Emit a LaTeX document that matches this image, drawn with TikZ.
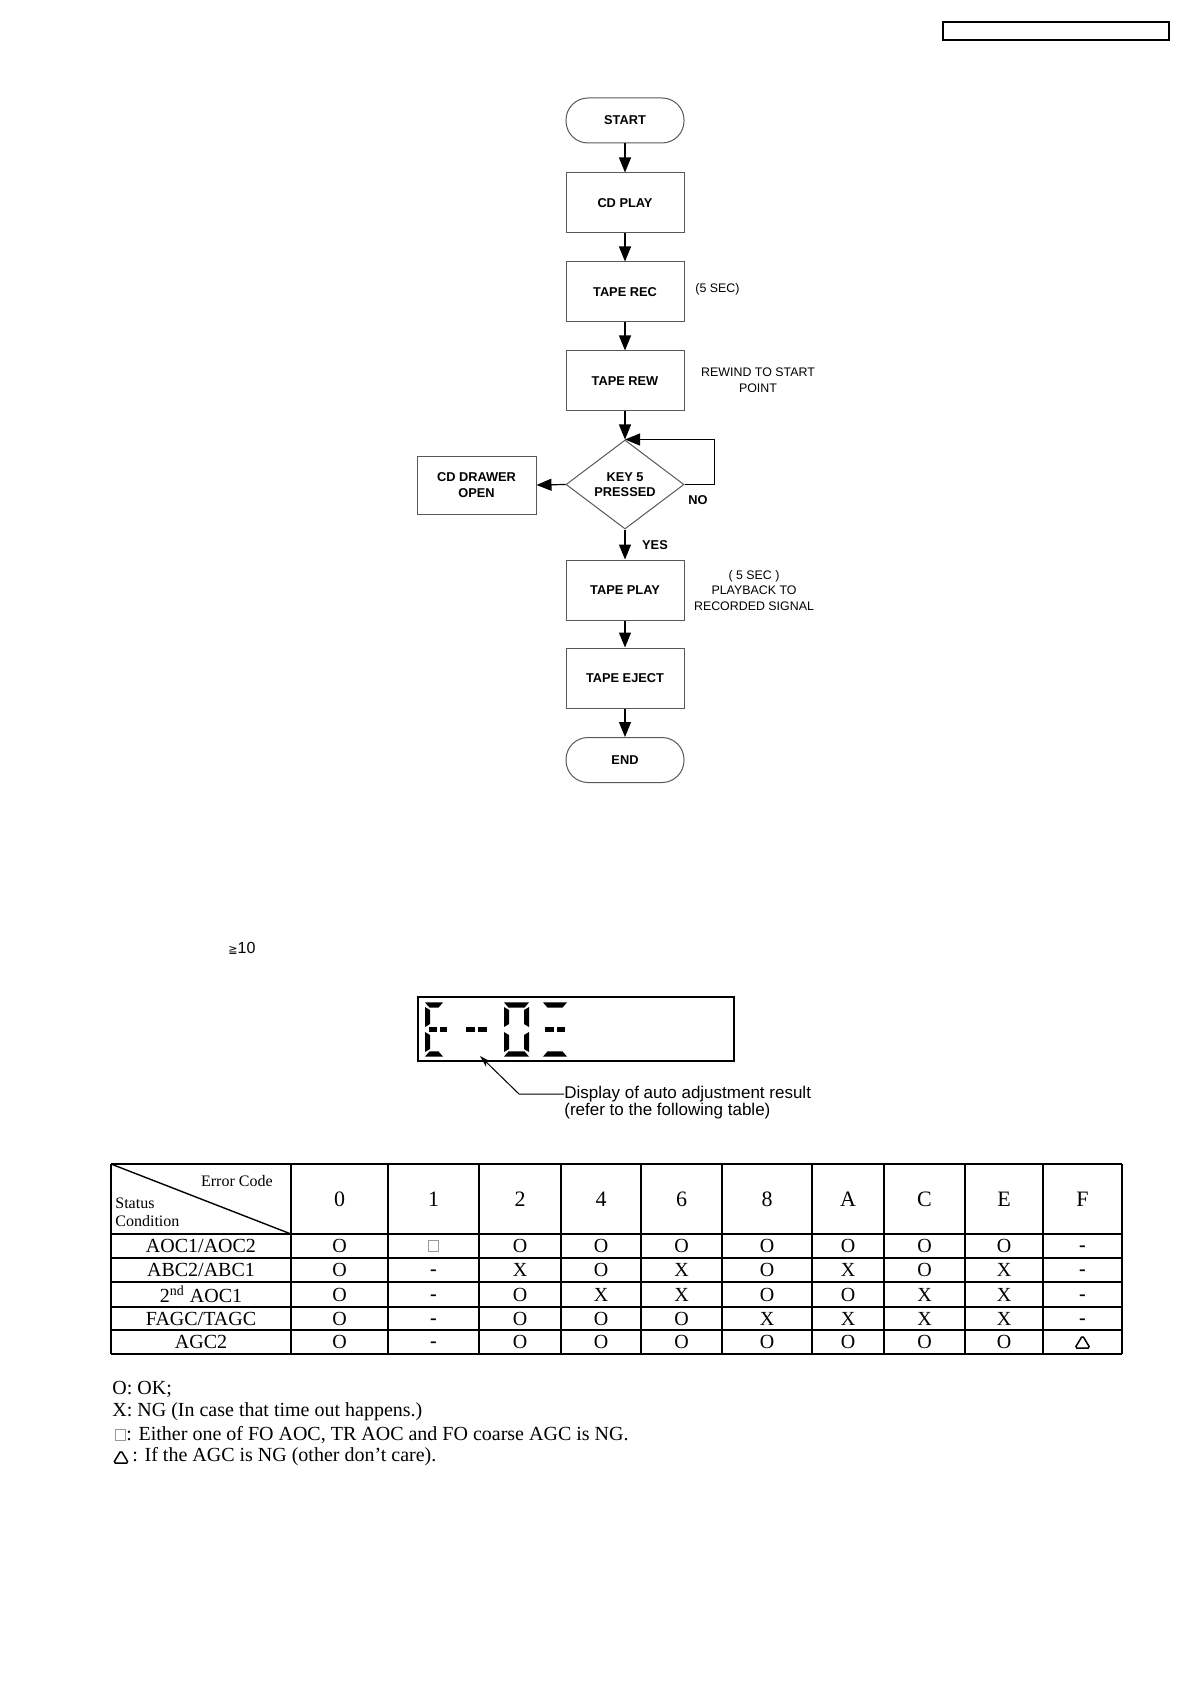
\documentclass[tikz,border=0pt]{standalone}
\usepackage{fontspec}
\setmainfont{Liberation Serif}
\setsansfont{Liberation Sans}
\newfontfamily\djv{DejaVu Sans}
\usetikzlibrary{shapes.geometric,arrows.meta}
% top bar: full top edge, inset bottom edge
\newcommand\tsegm[3]{\fill (#1,#3-2.6) -- (#2,#3-2.6) -- (#2-4.5,#3+2.6) -- (#1+4.5,#3+2.6) -- cycle;}
% bottom bar
\newcommand\bsegm[3]{\fill (#1,#3+2.6) -- (#2,#3+2.6) -- (#2-4.5,#3-2.6) -- (#1+4.5,#3-2.6) -- cycle;}
% left vertical (outer edge full)
\newcommand\lsegm[3]{\fill (#1-2.5,#2) -- (#1+2.5,#2+3) -- (#1+2.5,#3-3) -- (#1-2.5,#3) -- cycle;}
% right vertical
\newcommand\rsegm[3]{\fill (#1+2.5,#2) -- (#1-2.5,#2+3) -- (#1-2.5,#3-3) -- (#1+2.5,#3) -- cycle;}
\newcommand\dsegm[3]{\fill (#1,#3-2.5) rectangle (#2,#3+2.5);}
\newcommand\trigl[2]{\draw[line width=0.75pt, rounded corners=0.9pt] (#1-7.5,#2+6) -- (#1+7.5,#2+6) -- (#1,#2-6.5) -- cycle;}
\newcommand\grsq[2]{\draw[black!40, line width=0.5pt] (#1-5,#2-6) rectangle (#1+5,#2+5);}
\begin{document}
\begin{tikzpicture}[x=0.5pt,y=-0.5pt,
  fc/.style={draw=black!65, line width=0.5pt, minimum width=59pt, minimum height=30pt, inner sep=0pt,
    font=\sffamily\bfseries\fontsize{6.4}{7.8}\selectfont, align=center},
  term/.style={fc, rounded corners=11pt, minimum height=22.5pt},
  dec/.style={fc, diamond, aspect=1.33, minimum width=59pt, minimum height=44.5pt},
  note/.style={font=\sffamily\fontsize{6.2}{7.8}\selectfont, align=center, inner sep=0pt},
  bnote/.style={note, font=\sffamily\bfseries\fontsize{6.4}{7.8}\selectfont},
  arr/.style={-{Triangle[length=7.5pt,width=6pt]}, line width=0.6pt},
  lbl/.style={font=\sffamily\fontsize{8.5}{10}\selectfont, inner sep=0pt, anchor=west},
  tbl/.style={line width=0.8pt},
  hd/.style={font=\fontsize{11}{13}\selectfont, inner sep=0pt},
  cell/.style={font=\fontsize{10}{12}\selectfont, inner sep=0pt},
  dcell/.style={font=\bfseries\fontsize{10}{12}\selectfont, inner sep=0pt},
  small/.style={font=\fontsize{8}{9.5}\selectfont, inner sep=0pt},
  leg/.style={font=\fontsize{10}{12}\selectfont, inner sep=0pt, anchor=west}
]
\useasboundingbox (0,0) rectangle (1190,1684);
\fill[white] (0,0) rectangle (1190,1684);

% top right box
\draw[line width=1pt] (943,22) rectangle (1169,40);

% flowchart
\node[term] (start) at (625,120.5) {START};
\node[fc] (cdplay) at (625,203) {CD PLAY};
\node[fc] (taperec) at (625,292) {TAPE REC};
\node[fc] (taperew) at (625,381) {TAPE REW};
\node[dec] (key) at (625,484.5) {KEY 5\\PRESSED};
\node[fc, minimum width=59.5pt, minimum height=29pt] (drawer) at (476.5,485) {CD DRAWER\\OPEN};
\node[fc] (tapeplay) at (625,590) {TAPE PLAY};
\node[fc] (tapeeject) at (625,678) {TAPE EJECT};
\node[term] (endn) at (625,760) {END};

\node[note, anchor=west] (n1) at (695,289) {(5 SEC)};
\node[note] (n2) at (758,380) {REWIND TO START\\POINT};
\node[note] (n3) at (754,590.5) {( 5 SEC )\\PLAYBACK TO\\RECORDED SIGNAL};
\node[bnote] (no) at (698,500) {NO};
\node[bnote] (yes) at (655,545) {YES};

\draw[arr] (start) -- (cdplay);
\draw[arr] (cdplay) -- (taperec);
\draw[arr] (taperec) -- (taperew);
\draw[arr] (taperew) -- (key.north);
\draw[arr] (key.east) -- ++(30,0) |- (key.north);
\draw[arr] (key.west) -- (drawer.east);
\draw[arr] (key.south) -- (tapeplay);
\draw[arr] (tapeplay) -- (tapeeject);
\draw[arr] (tapeeject) -- (endn);

% >=10
\node[inner sep=0pt, anchor=west] (ge) at (228,948) {{\djv\fontsize{5.5}{6}\selectfont ≧}{\sffamily\fontsize{8}{9}\selectfont 10}};

% display
\draw[line width=0.8pt] (418,997) rectangle (734,1061);
% E
\tsegm{425}{443}{1005}
\lsegm{427.5}{1007}{1027}
\lsegm{427.5}{1032}{1052}
\dsegm{429}{437}{1029.5}
\dsegm{439.5}{447}{1029.5}
\bsegm{425}{443}{1054}
% --
\dsegm{466}{475}{1029.5}
\dsegm{478}{487}{1029.5}
% 0
\tsegm{504}{529}{1005}
\lsegm{506.5}{1007}{1027}
\lsegm{506.5}{1032}{1052}
\rsegm{526.5}{1007}{1027}
\rsegm{526.5}{1032}{1052}
\bsegm{504}{529}{1054}
% third
\tsegm{543}{567}{1005}
\dsegm{545}{554}{1029.5}
\dsegm{557}{565}{1029.5}
\bsegm{543}{567}{1054}

\coordinate (lbend) at (519,1094);
\coordinate (ltip) at (480,1056);
\node[lbl] (l1) at (564,1094) {Display of auto adjustment result};
\node[lbl] (l2) at (564,1111) {(refer to the following table)};
\draw[-{Stealth[length=6pt,width=3.5pt]}, line width=0.5pt] (l1.west) -- (lbend) -- (ltip);

% table
\foreach \x in {111,291,388,479,561,641,722,812,884,965,1043,1122}
  \draw[tbl] (\x,1164) -- (\x,1354);
\foreach \y in {1164,1234,1258,1282,1307,1330,1354}
  \draw[tbl] (111,\y) -- (1122,\y);
\draw[line width=0.7pt] (111,1164) -- (291,1234);
\node[small, anchor=east] (ec) at (273,1181) {Error Code};
\node[small, anchor=west] (st) at (115,1203) {Status};
\node[small, anchor=west] (cd) at (115,1221) {Condition};

\foreach \c/\xc in {0/339.5, 1/433.5, 2/520, 4/601, 6/681.5, 8/767, A/848, C/924.5, E/1004, F/1082.5}
  \node[hd] (h\c) at (\xc,1199.5) {\c};

\node[cell] (r1) at (201,1246) {AOC1/AOC2};
\node[cell] (r2) at (201,1270) {ABC2/ABC1};
\node[cell] (r3) at (201,1294.5) {2\textsuperscript{nd} AOC1};
\node[cell] (r4) at (201,1318.5) {FAGC/TAGC};
\node[cell] (r5) at (201,1342) {AGC2};

% dashes
\node[dcell] (ad) at (1082.5,1249) {-};
\foreach \yc [count=\i] in {1273,1297.5,1321.5}
  \node[dcell] (fd\i) at (1082.5,\yc) {-};
\foreach \yc [count=\i] in {1273,1297.5,1321.5,1345}
  \node[dcell] (od\i) at (433.5,\yc) {-};

\foreach \xc/\v [count=\i] in {339.5/O, 520/O, 601/O, 681.5/O, 767/O, 848/O, 924.5/O, 1004/O}
  \node[cell] (a\i) at (\xc,1246) {\v};
\grsq{433.5}{1246}
\foreach \xc/\v [count=\i] in {339.5/O, 520/X, 601/O, 681.5/X, 767/O, 848/X, 924.5/O, 1004/X}
  \node[cell] (b\i) at (\xc,1270) {\v};
\foreach \xc/\v [count=\i] in {339.5/O, 520/O, 601/X, 681.5/X, 767/O, 848/O, 924.5/X, 1004/X}
  \node[cell] (c\i) at (\xc,1294.5) {\v};
\foreach \xc/\v [count=\i] in {339.5/O, 520/O, 601/O, 681.5/O, 767/X, 848/X, 924.5/X, 1004/X}
  \node[cell] (d\i) at (\xc,1318.5) {\v};
\foreach \xc/\v [count=\i] in {339.5/O, 520/O, 601/O, 681.5/O, 767/O, 848/O, 924.5/O, 1004/O}
  \node[cell] (e\i) at (\xc,1342) {\v};
\trigl{1082.5}{1342}

% legend
\node[leg] (g1) at (112,1389) {O: OK;};
\node[leg] (g2) at (112,1412) {X: NG (In case that time out happens.)};
\grsq{120}{1435}
\node[leg] (g3) at (126,1435) {: Either one of FO AOC, TR AOC and FO coarse AGC is NG.};
\trigl{121}{1457}
\node[leg] (g4) at (132,1457) {: If the AGC is NG (other don’t care).};
\end{tikzpicture}
\end{document}
